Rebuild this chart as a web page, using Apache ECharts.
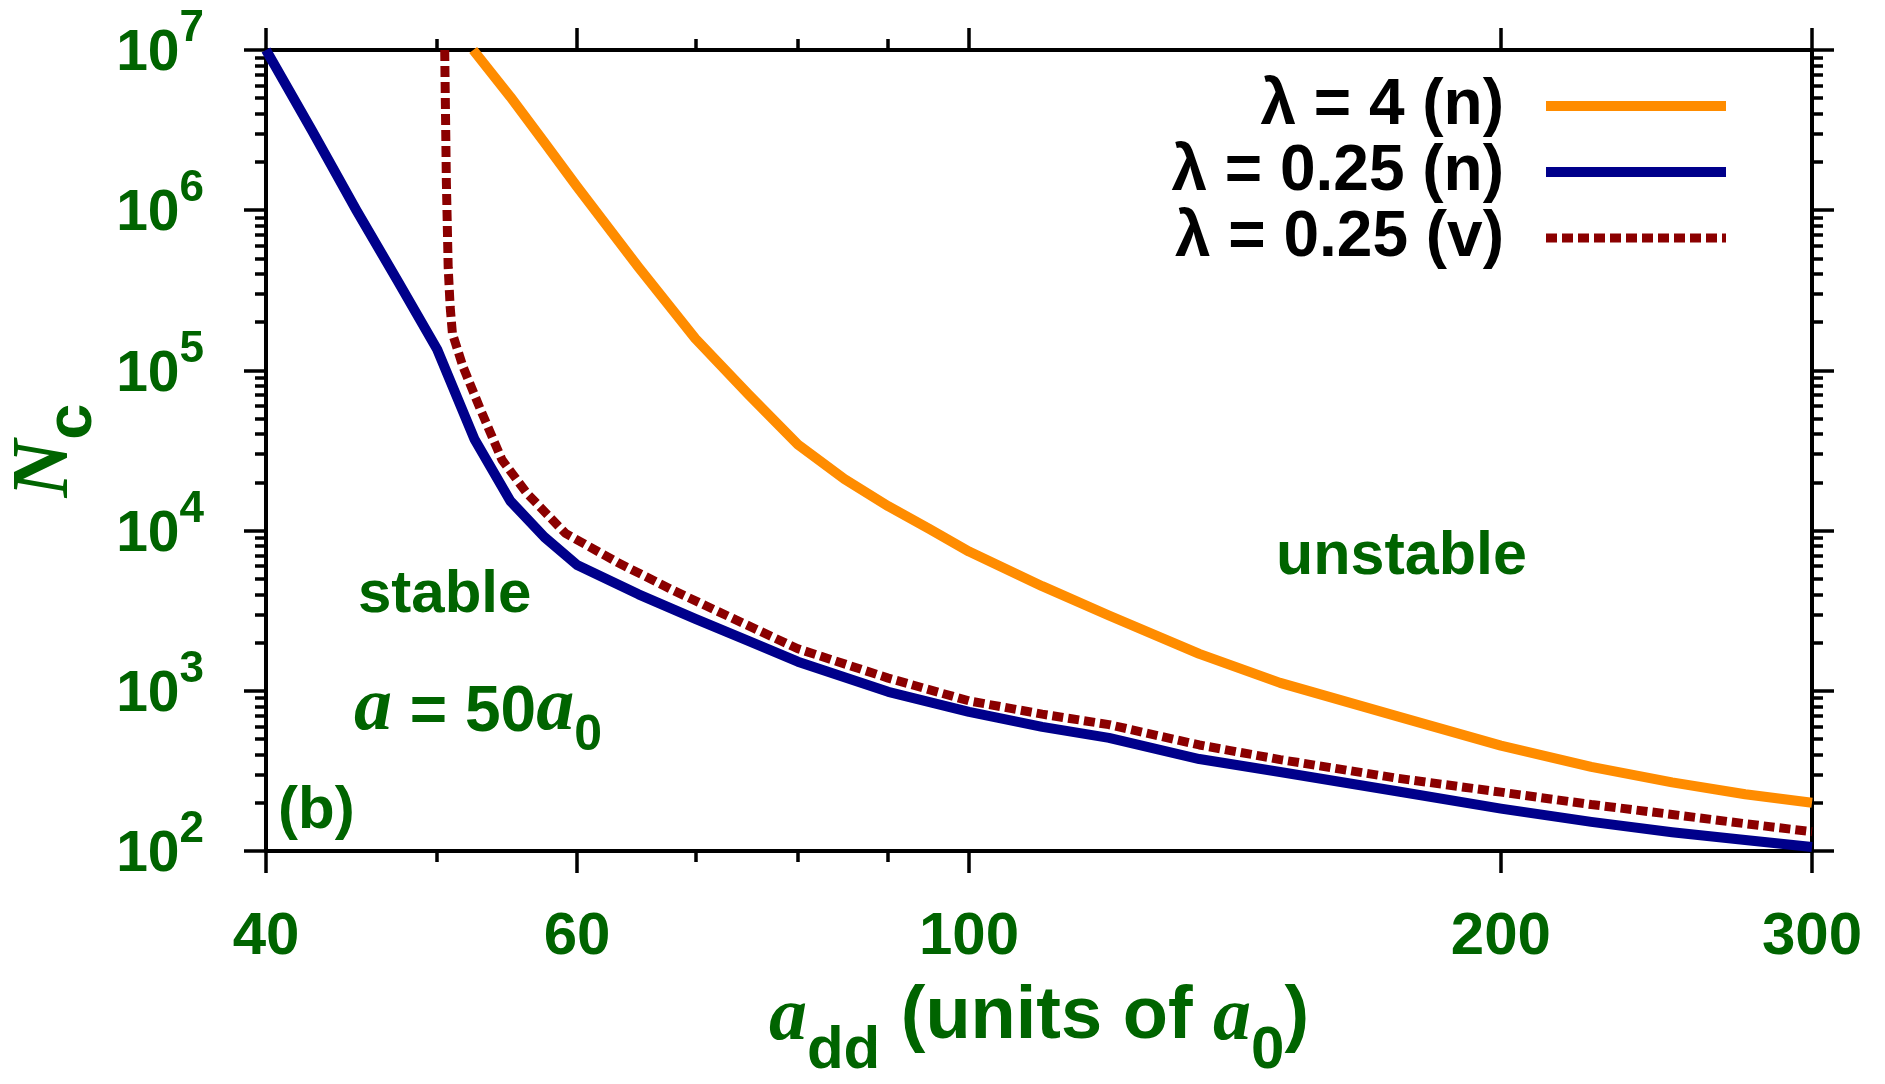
<!DOCTYPE html>
<html>
<head>
<meta charset="utf-8">
<script src="https://cdn.jsdelivr.net/npm/echarts@6/dist/echarts.min.js"></script>
<style>
html,body{margin:0;padding:0;background:#fff;}
#chart{width:1885px;height:1084px;}
</style>
</head>
<body>
<div id="chart"></div>
<script>
// ---- data ----
const xMajorTicks = [40, 60, 100, 200, 300];
const xMinorTicks = [50, 70, 80, 90];
const yMajorTicks = [1e2, 1e3, 1e4, 1e5, 1e6, 1e7];

const seriesNames = ['λ = 4 (n)', 'λ = 0.25 (n)', 'λ = 0.25 (v)'];

const addOrange = [52.4, 55, 57.5, 60, 65, 70, 75, 80, 85, 90, 95, 100, 110, 120, 135, 150, 175, 200, 225, 250, 275, 300];
const ncOrange  = [1.0e7, 5.1e6, 2.65e6, 1.4e6, 4.4e5, 1.58e5, 7.1e4, 3.45e4, 2.1e4, 1.42e4, 1.02e4, 7.4e3, 4.5e3, 2.95e3, 1.7e3, 1.12e3, 690, 455, 335, 268, 226, 200];

const addBlue = [40, 42.5, 45, 47.5, 50, 52.5, 55, 57.5, 60, 65, 70, 75, 80, 90, 100, 110, 120, 135, 150, 175, 200, 225, 250, 275, 300];
const ncBlue  = [1.0e7, 3.1e6, 1.0e6, 3.6e5, 1.35e5, 3.7e4, 1.53e4, 9.1e3, 6.1e3, 4.0e3, 2.81e3, 2.05e3, 1.52e3, 985, 738, 595, 508, 375, 311, 235, 184, 152, 131, 117, 106];

const addRed = [50.49, 50.6, 50.72, 50.85, 51.0, 51.7, 52.9, 54.4, 56.2, 59.1, 63.3, 67.9, 73.8, 80, 90, 100, 110, 120, 135, 150, 175, 200, 225, 250, 275, 300];
const ncRed  = [1.0e7, 1.5e6, 4.4e5, 2.5e5, 1.7e5, 1.06e5, 5.7e4, 2.77e4, 1.71e4, 9.6e3, 6.3e3, 4.27e3, 2.77e3, 1.83e3, 1.2e3, 865, 715, 615, 459, 372, 284, 233, 195, 169, 148, 132];

// ---- styling ----
const GREEN = '#006400';
const SANS = '"Liberation Sans", Arial, Helvetica, sans-serif';
const SERIF = '"Liberation Serif", "Times New Roman", serif';

const yMinorTicks = [];
for (let e = 2; e < 7; e++) for (let m = 2; m <= 9; m++) yMinorTicks.push(m * Math.pow(10, e));

function pairs(xs, ys) { return xs.map((x, i) => [x, ys[i]]); }

const axisLineStyle = { show: true, lineStyle: { color: '#000', width: 4 } };
const majorTickLen = 22, minorTickLen = 11;

function xAx(pos, major, showLabel, showLine) {
  return {
    type: 'log', logBase: 10, min: 40, max: 300, position: pos, gridIndex: 0,
    axisLine: showLine ? axisLineStyle : { show: false },
    axisTick: { show: true, inside: false, length: major ? majorTickLen : minorTickLen,
      customValues: major ? xMajorTicks : xMinorTicks, lineStyle: { color: '#000', width: 3.5 } },
    minorTick: { show: false },
    splitLine: { show: false },
    axisLabel: showLabel ? {
      show: true, customValues: xMajorTicks, margin: 56,
      formatter: v => String(Math.round(v)),
      color: GREEN, fontSize: 60, fontWeight: 'bold', fontFamily: SANS, lineHeight: 60
    } : { show: false }
  };
}
function yAx(pos, major, showLabel, showLine) {
  return {
    type: 'log', logBase: 10, min: 100, max: 1e7, position: pos, gridIndex: 0,
    axisLine: showLine ? axisLineStyle : { show: false },
    axisTick: { show: true, inside: false, length: major ? majorTickLen : minorTickLen,
      customValues: major ? yMajorTicks : yMinorTicks, lineStyle: { color: '#000', width: 3.5 } },
    minorTick: { show: false },
    splitLine: { show: false },
    axisLabel: showLabel ? {
      show: true, customValues: yMajorTicks, margin: 62, padding: [0, 0, 10, 0],
      formatter: v => '{b|10}{s|' + Math.round(Math.log10(v)) + '}',
      color: GREEN, fontWeight: 'bold', fontFamily: SANS,
      rich: {
        b: { fontSize: 57, fontWeight: 'bold', fontFamily: SANS, color: GREEN, padding: [19, 0, 0, 0], verticalAlign: 'top' },
        s: { fontSize: 44, fontWeight: 'bold', fontFamily: SANS, color: GREEN, verticalAlign: 'top' }
      }
    } : { show: false }
  };
}

const xAxes = [xAx('bottom', true, true, true), xAx('bottom', false, false, false),
               xAx('top', true, false, true), xAx('top', false, false, false)];
xAxes[0].name = '{ia|a}{sd|dd}{t| (units of }{ia|a}{sd|0}{t|)}';
xAxes[0].nameLocation = 'middle';
xAxes[0].nameGap = 130;
xAxes[0].nameTextStyle = {
  color: GREEN,
  rich: {
    ia: { fontSize: 76, fontStyle: 'italic', fontWeight: 'bold', fontFamily: SERIF, color: GREEN, verticalAlign: 'top' },
    sd: { fontSize: 60, fontWeight: 'bold', fontFamily: SANS, color: GREEN, padding: [40, 0, 0, 0], verticalAlign: 'top' },
    t:  { fontSize: 74, fontWeight: 'bold', fontFamily: SANS, color: GREEN, verticalAlign: 'top' }
  }
};

const yAxes = [yAx('left', true, true, true), yAx('left', false, false, false),
               yAx('right', true, false, true), yAx('right', false, false, false)];
yAxes[0].name = '{n|N}{c|c}';
yAxes[0].nameLocation = 'middle';
yAxes[0].nameRotate = 90;
yAxes[0].nameGap = 134;
yAxes[0].nameTextStyle = {
  color: GREEN,
  rich: {
    n: { fontSize: 80, fontStyle: 'italic', fontWeight: 'bold', fontFamily: SERIF, color: GREEN, verticalAlign: 'top' },
    c: { fontSize: 65, fontWeight: 'bold', fontFamily: SANS, color: GREEN, padding: [34, 0, 0, 0], verticalAlign: 'top' }
  }
};

const chart = echarts.init(document.getElementById('chart'), null, { renderer: 'canvas' });
chart.setOption({
  animation: false,
  backgroundColor: '#fff',
  grid: { left: 266, right: 73, top: 50, bottom: 233, containLabel: false, outerBoundsMode: 'none' },
  xAxis: xAxes,
  yAxis: yAxes,
  legend: {
    orient: 'vertical', right: 154, top: 74, align: 'right', padding: 0,
    itemWidth: 180, itemHeight: 1, itemGap: 2,
    data: seriesNames,
    textStyle: { fontSize: 64, lineHeight: 64, fontWeight: 'bold', fontFamily: SANS, color: '#000', padding: [0, 37, 0, 0] },
    lineStyle: { width: 'inherit' }
  },
  series: [
    { name: seriesNames[0], type: 'line', data: pairs(addOrange, ncOrange), showSymbol: false, symbol: 'none',
      lineStyle: { color: '#ff8c00', width: 10, join: 'round' }, itemStyle: { color: '#ff8c00' }, clip: true, z: 3 },
    { name: seriesNames[1], type: 'line', data: pairs(addBlue, ncBlue), showSymbol: false, symbol: 'none',
      lineStyle: { color: '#00008b', width: 10, join: 'round' }, itemStyle: { color: '#00008b' }, clip: true, z: 4 },
    { name: seriesNames[2], type: 'line', data: pairs(addRed, ncRed), showSymbol: false, symbol: 'none',
      lineStyle: { color: '#8b0000', width: 9, type: [11, 5], cap: 'butt' }, itemStyle: { color: '#8b0000' }, clip: true, z: 5 }
  ],
  graphic: [
    { type: 'text', x: 358, y: 595, style: { text: 'stable', fill: GREEN, font: 'bold 60px ' + SANS, verticalAlign: 'middle' } },
    { type: 'text', x: 1276, y: 557, style: { text: 'unstable', fill: GREEN, font: 'bold 61px ' + SANS, verticalAlign: 'middle' } },
    { type: 'text', x: 278, y: 811, style: { text: '(b)', fill: GREEN, font: 'bold 60px ' + SANS, verticalAlign: 'middle' } },
    { type: 'text', x: 354, y: 716, style: {
        text: '{a|a}{t| = 50}{a|a}{s|0}', verticalAlign: 'middle', fill: GREEN,
        rich: {
          a: { fontSize: 76, fontStyle: 'italic', fontWeight: 'bold', fontFamily: SERIF, fill: GREEN, verticalAlign: 'top' },
          t: { fontSize: 64, fontWeight: 'bold', fontFamily: SANS, fill: GREEN, padding: [10, 0, 0, 0], verticalAlign: 'top' },
          s: { fontSize: 50, fontWeight: 'bold', fontFamily: SANS, fill: GREEN, padding: [40, 0, 0, 0], verticalAlign: 'top' }
        } } }
  ]
});
</script>
</body>
</html>
